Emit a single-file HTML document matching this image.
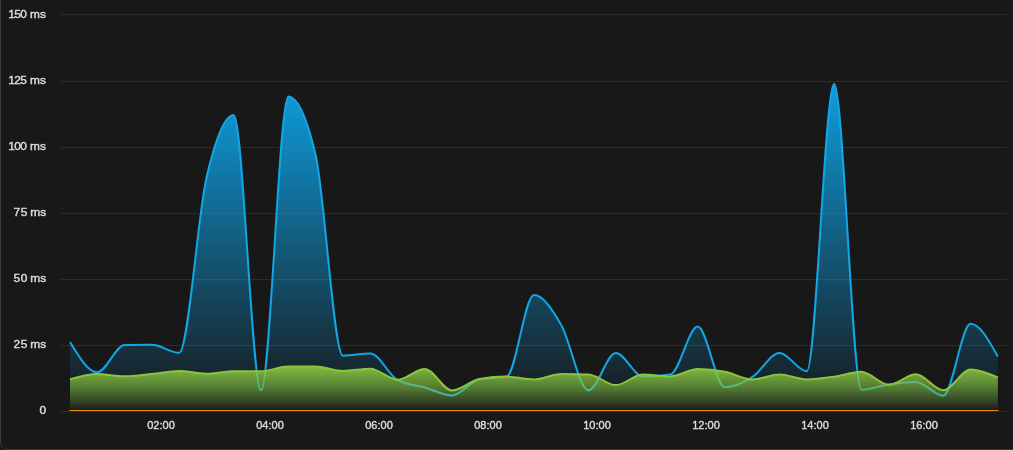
<!DOCTYPE html>
<html><head><meta charset="utf-8"><style>
html,body{margin:0;padding:0;background:#181818;}
body{width:1013px;height:450px;overflow:hidden;position:relative;font-family:"Liberation Sans",sans-serif;}
.frame{position:absolute;left:0;top:-6px;width:1040px;height:456px;border:1px solid #3a3a3a;border-radius:7px;box-sizing:border-box;}
.yl{position:absolute;right:967px;font-size:11px;color:#dedede;white-space:nowrap;line-height:11px;-webkit-text-stroke:0.4px #dedede;text-align:right;transform:scale(1.08,0.92);transform-origin:100% 100%;}
.yl .n{font-size:11px;letter-spacing:0.5px;}
.yl .u{margin-left:2.3px;}
.xl span{}
.xl{position:absolute;top:420px;font-size:11px;color:#cfcfcf;white-space:nowrap;line-height:11px;width:60px;text-align:center;-webkit-text-stroke:0.4px #dedede;color:#dedede;transform:scale(1.0,0.92);transform-origin:50% 80%;}
.lw{position:absolute;left:0;top:0;width:1013px;height:450px;will-change:transform;}
svg{position:absolute;left:0;top:0;}
</style></head><body>
<div class="frame"></div>
<div class="lw">

<div class="yl" style="top:9px"><span class="n" style="letter-spacing:-0.5px">150</span><span class="u" style="margin-left:3.3px">ms</span></div>
<div class="yl" style="top:75px"><span class="n" style="letter-spacing:-0.5px">125</span><span class="u" style="margin-left:3.3px">ms</span></div>
<div class="yl" style="top:141px"><span class="n" style="letter-spacing:-0.5px">100</span><span class="u" style="margin-left:3.3px">ms</span></div>
<div class="yl" style="top:207px"><span class="n">75</span><span class="u">ms</span></div>
<div class="yl" style="top:273px"><span class="n">50</span><span class="u">ms</span></div>
<div class="yl" style="top:339px"><span class="n">25</span><span class="u">ms</span></div>
<div class="yl" style="top:405px"><span class="n" style="letter-spacing:0">0</span></div>
<div class="xl" style="left:131px"><span>02:00</span></div>
<div class="xl" style="left:240px"><span>04:00</span></div>
<div class="xl" style="left:349px"><span>06:00</span></div>
<div class="xl" style="left:458px"><span>08:00</span></div>
<div class="xl" style="left:567px"><span>10:00</span></div>
<div class="xl" style="left:676px"><span>12:00</span></div>
<div class="xl" style="left:785px"><span>14:00</span></div>
<div class="xl" style="left:894px"><span>16:00</span></div>
</div>
<svg width="1013" height="450" viewBox="0 0 1013 450">
<defs>
<linearGradient id="gb" x1="0" y1="0" x2="0" y2="1"><stop offset="0" stop-color="#0ea5e9" stop-opacity="0.95"/><stop offset="1" stop-color="#0ea5e9" stop-opacity="0"/></linearGradient>
<linearGradient id="gg" x1="0" y1="0" x2="0" y2="1"><stop offset="0" stop-color="#86c440" stop-opacity="0.95"/><stop offset="0.5" stop-color="#86c440" stop-opacity="0.55"/><stop offset="1" stop-color="#86c440" stop-opacity="0.03"/></linearGradient>
</defs>
<rect x="61" y="14" width="946" height="1" fill="#2c2c2c"/>
<rect x="61" y="81" width="946" height="1" fill="#2c2c2c"/>
<rect x="61" y="147" width="946" height="1" fill="#2c2c2c"/>
<rect x="61" y="213" width="946" height="1" fill="#2c2c2c"/>
<rect x="61" y="279" width="946" height="1" fill="#2c2c2c"/>
<rect x="61" y="345" width="946" height="1" fill="#2c2c2c"/>
<rect x="61" y="411" width="946" height="1" fill="#2c2c2c"/>
<path d="M70.00 342.00 C79.10 357.10 88.19 372.20 97.29 372.20 C106.39 372.20 115.48 345.30 124.58 345.10 C133.68 344.90 142.77 344.80 151.87 344.80 C160.97 344.80 170.06 352.80 179.16 352.80 C188.26 352.80 197.35 217.62 206.45 178.00 C215.55 138.38 224.64 115.10 233.74 115.10 C242.84 115.10 251.93 390.30 261.03 390.30 C270.13 390.30 279.22 96.60 288.32 96.60 C297.42 96.60 306.51 116.07 315.61 155.00 C324.71 193.93 333.80 355.70 342.90 355.70 C352.00 355.70 361.09 353.50 370.19 353.50 C379.29 353.50 388.38 375.00 397.48 380.00 C406.58 385.00 415.67 384.93 424.77 387.50 C433.87 390.07 442.96 395.40 452.06 395.40 C461.16 395.40 470.25 380.93 479.35 379.20 C488.45 377.47 497.54 378.33 506.64 376.60 C515.74 374.87 524.83 295.00 533.93 295.00 C543.03 295.00 552.12 309.10 561.22 325.00 C570.32 340.90 579.41 390.40 588.51 390.40 C597.61 390.40 606.70 353.00 615.80 353.00 C624.90 353.00 633.99 376.50 643.09 376.50 C652.19 376.50 661.28 375.83 670.38 374.50 C679.48 373.17 688.57 326.60 697.67 326.60 C706.77 326.60 715.86 387.30 724.96 387.30 C734.06 387.30 743.15 382.92 752.25 377.20 C761.35 371.48 770.44 353.00 779.54 353.00 C788.64 353.00 797.73 371.30 806.83 371.30 C815.93 371.30 825.02 83.80 834.12 83.80 C843.22 83.80 852.31 389.80 861.41 389.80 C870.51 389.80 879.60 385.72 888.70 384.40 C897.80 383.08 906.89 381.90 915.99 381.90 C925.09 381.90 934.18 395.70 943.28 395.70 C952.38 395.70 961.47 323.80 970.57 323.80 C979.67 323.80 988.76 340.15 997.86 356.50 L997.86 410 L70.00 410 Z" fill="url(#gb)"/>
<path d="M70.00 342.00 C79.10 357.10 88.19 372.20 97.29 372.20 C106.39 372.20 115.48 345.30 124.58 345.10 C133.68 344.90 142.77 344.80 151.87 344.80 C160.97 344.80 170.06 352.80 179.16 352.80 C188.26 352.80 197.35 217.62 206.45 178.00 C215.55 138.38 224.64 115.10 233.74 115.10 C242.84 115.10 251.93 390.30 261.03 390.30 C270.13 390.30 279.22 96.60 288.32 96.60 C297.42 96.60 306.51 116.07 315.61 155.00 C324.71 193.93 333.80 355.70 342.90 355.70 C352.00 355.70 361.09 353.50 370.19 353.50 C379.29 353.50 388.38 375.00 397.48 380.00 C406.58 385.00 415.67 384.93 424.77 387.50 C433.87 390.07 442.96 395.40 452.06 395.40 C461.16 395.40 470.25 380.93 479.35 379.20 C488.45 377.47 497.54 378.33 506.64 376.60 C515.74 374.87 524.83 295.00 533.93 295.00 C543.03 295.00 552.12 309.10 561.22 325.00 C570.32 340.90 579.41 390.40 588.51 390.40 C597.61 390.40 606.70 353.00 615.80 353.00 C624.90 353.00 633.99 376.50 643.09 376.50 C652.19 376.50 661.28 375.83 670.38 374.50 C679.48 373.17 688.57 326.60 697.67 326.60 C706.77 326.60 715.86 387.30 724.96 387.30 C734.06 387.30 743.15 382.92 752.25 377.20 C761.35 371.48 770.44 353.00 779.54 353.00 C788.64 353.00 797.73 371.30 806.83 371.30 C815.93 371.30 825.02 83.80 834.12 83.80 C843.22 83.80 852.31 389.80 861.41 389.80 C870.51 389.80 879.60 385.72 888.70 384.40 C897.80 383.08 906.89 381.90 915.99 381.90 C925.09 381.90 934.18 395.70 943.28 395.70 C952.38 395.70 961.47 323.80 970.57 323.80 C979.67 323.80 988.76 340.15 997.86 356.50" fill="none" stroke="#12a6e6" stroke-width="2"/>
<path d="M70.00 379.30 C79.10 376.65 88.19 374.00 97.29 374.00 C106.39 374.00 115.48 376.30 124.58 376.30 C133.68 376.30 142.77 374.90 151.87 374.00 C160.97 373.10 170.06 370.90 179.16 370.90 C188.26 370.90 197.35 373.80 206.45 373.80 C215.55 373.80 224.64 371.37 233.74 371.30 C242.84 371.23 251.93 371.27 261.03 371.20 C270.13 371.13 279.22 366.50 288.32 366.50 C297.42 366.50 306.51 366.50 315.61 366.50 C324.71 366.50 333.80 371.00 342.90 371.00 C352.00 371.00 361.09 368.70 370.19 368.70 C379.29 368.70 388.38 379.70 397.48 379.70 C406.58 379.70 415.67 369.00 424.77 369.00 C433.87 369.00 442.96 390.50 452.06 390.50 C461.16 390.50 470.25 380.60 479.35 379.00 C488.45 377.40 497.54 376.60 506.64 376.60 C515.74 376.60 524.83 379.50 533.93 379.50 C543.03 379.50 552.12 374.10 561.22 374.10 C570.32 374.10 579.41 374.20 588.51 374.40 C597.61 374.60 606.70 385.10 615.80 385.10 C624.90 385.10 633.99 374.40 643.09 374.40 C652.19 374.40 661.28 376.40 670.38 376.40 C679.48 376.40 688.57 369.10 697.67 369.10 C706.77 369.10 715.86 369.98 724.96 371.70 C734.06 373.42 743.15 379.40 752.25 379.40 C761.35 379.40 770.44 374.50 779.54 374.50 C788.64 374.50 797.73 379.40 806.83 379.40 C815.93 379.40 825.02 377.97 834.12 376.70 C843.22 375.43 852.31 371.80 861.41 371.80 C870.51 371.80 879.60 384.80 888.70 384.80 C897.80 384.80 906.89 374.30 915.99 374.30 C925.09 374.30 934.18 390.30 943.28 390.30 C952.38 390.30 961.47 369.40 970.57 369.40 C979.67 369.40 988.76 373.40 997.86 377.40 L997.86 410 L70.00 410 Z" fill="url(#gg)"/>
<path d="M70.00 379.30 C79.10 376.65 88.19 374.00 97.29 374.00 C106.39 374.00 115.48 376.30 124.58 376.30 C133.68 376.30 142.77 374.90 151.87 374.00 C160.97 373.10 170.06 370.90 179.16 370.90 C188.26 370.90 197.35 373.80 206.45 373.80 C215.55 373.80 224.64 371.37 233.74 371.30 C242.84 371.23 251.93 371.27 261.03 371.20 C270.13 371.13 279.22 366.50 288.32 366.50 C297.42 366.50 306.51 366.50 315.61 366.50 C324.71 366.50 333.80 371.00 342.90 371.00 C352.00 371.00 361.09 368.70 370.19 368.70 C379.29 368.70 388.38 379.70 397.48 379.70 C406.58 379.70 415.67 369.00 424.77 369.00 C433.87 369.00 442.96 390.50 452.06 390.50 C461.16 390.50 470.25 380.60 479.35 379.00 C488.45 377.40 497.54 376.60 506.64 376.60 C515.74 376.60 524.83 379.50 533.93 379.50 C543.03 379.50 552.12 374.10 561.22 374.10 C570.32 374.10 579.41 374.20 588.51 374.40 C597.61 374.60 606.70 385.10 615.80 385.10 C624.90 385.10 633.99 374.40 643.09 374.40 C652.19 374.40 661.28 376.40 670.38 376.40 C679.48 376.40 688.57 369.10 697.67 369.10 C706.77 369.10 715.86 369.98 724.96 371.70 C734.06 373.42 743.15 379.40 752.25 379.40 C761.35 379.40 770.44 374.50 779.54 374.50 C788.64 374.50 797.73 379.40 806.83 379.40 C815.93 379.40 825.02 377.97 834.12 376.70 C843.22 375.43 852.31 371.80 861.41 371.80 C870.51 371.80 879.60 384.80 888.70 384.80 C897.80 384.80 906.89 374.30 915.99 374.30 C925.09 374.30 934.18 390.30 943.28 390.30 C952.38 390.30 961.47 369.40 970.57 369.40 C979.67 369.40 988.76 373.40 997.86 377.40" fill="none" stroke="#8ac43f" stroke-width="2"/>
<rect x="69.5" y="410" width="929" height="1" fill="#f08a1c"/>
</svg>
</body></html>
